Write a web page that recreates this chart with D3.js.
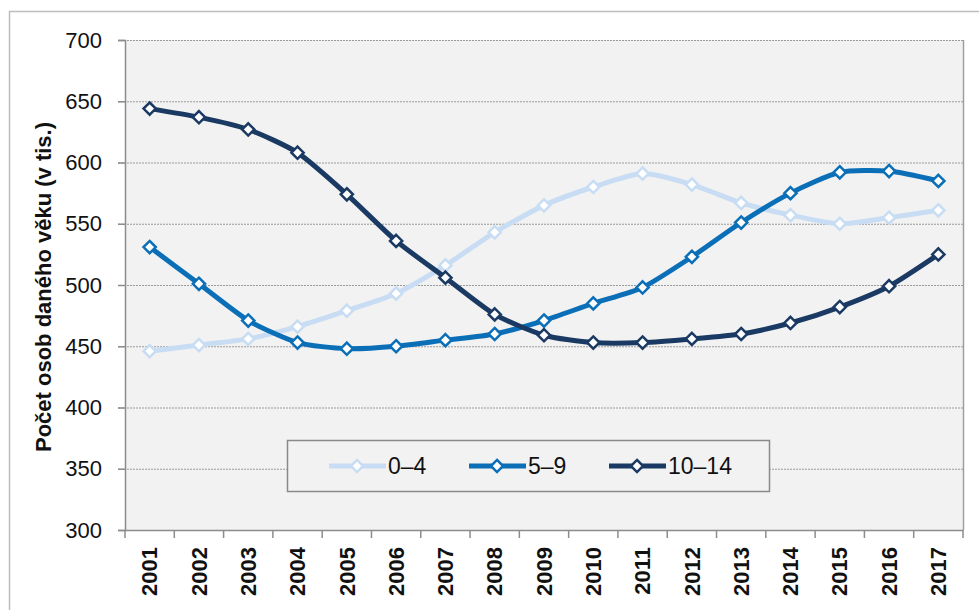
<!DOCTYPE html>
<html><head><meta charset="utf-8">
<script src="https://cdn.jsdelivr.net/npm/d3@7"></script>
<style>body{margin:0;background:#fff;}svg{display:block;font-family:"Liberation Sans",Arial,sans-serif;}</style>
</head><body>
<svg id="c" width="979" height="610"></svg>
<script>
const years = ["2001","2002","2003","2004","2005","2006","2007","2008","2009","2010","2011","2012","2013","2014","2015","2016","2017"];
const age0_4   = [446,451,456,466,479,493,516,543,565,580,591,582,567,557,550,555,561];
const age5_9   = [531,501,471,453,448,450,455,460,471,485,498,523,551,575,592,593,585];
const age10_14 = [644,637,627,608,574,536,506,476,459,453,453,456,460,469,482,499,525];
const seriesNames = ["0–4","5–9","10–14"];
const yTicks = [300,350,400,450,500,550,600,650,700];
const yTitle = "Počet osob daného věku (v tis.)";

const colors = ["#c8ddf4","#0b6fb8","#1b3a63"];
const series = [age0_4, age5_9, age10_14];

const svg = d3.select("#c");
const L = 125, T = 40, R = 963, B = 530;

// outer frame
svg.append("rect").attr("x",9.5).attr("y",11.5).attr("width",1000).attr("height",700)
  .attr("fill","#fff").attr("stroke","#bdbdbd").attr("stroke-width",1.5);

const x = d3.scaleBand().domain(years).range([L,R]);
const y = d3.scaleLinear().domain([300,700]).range([B,T]);

svg.append("rect").attr("x",L).attr("y",T).attr("width",R-L).attr("height",B-T).attr("fill","#f2f2f2");

// gridlines
svg.append("g").selectAll("line").data(yTicks.filter(d=>d>300)).join("line")
  .attr("x1",L-7).attr("x2",R).attr("y1",d=>y(d)+0.5).attr("y2",d=>y(d)+0.5)
  .attr("stroke","#9a9a9a").attr("stroke-width",1.2).attr("stroke-dasharray","2,1");
// right border
svg.append("line").attr("x1",R+0.5).attr("x2",R+0.5).attr("y1",T).attr("y2",B)
  .attr("stroke","#a0a0a0").attr("stroke-width",1.5);

// y axis
const yAxis = d3.axisLeft(y).tickValues(yTicks).tickSize(7).tickPadding(16);
const gy = svg.append("g").attr("transform",`translate(${L},0)`).call(yAxis);
gy.select(".domain").attr("stroke","#8c8c8c").attr("stroke-width",1.5);
gy.selectAll(".tick line").attr("stroke","#8c8c8c").attr("stroke-width",1.5);
gy.selectAll(".tick text").attr("font-size",22).attr("fill","#111").attr("font-family","Liberation Sans, Arial, sans-serif");

// x axis
const xAxis = d3.axisBottom(x).tickSize(0).tickPadding(0);
const gx = svg.append("g").attr("transform",`translate(0,${B})`).call(xAxis);
gx.select(".domain").attr("stroke","#8c8c8c").attr("stroke-width",1.5);
gx.selectAll(".tick text").attr("font-size",22).attr("font-weight","bold").attr("fill","#111")
  .attr("font-family","Liberation Sans, Arial, sans-serif")
  .attr("transform","rotate(-90)").attr("text-anchor","end").attr("dy","0.35em").attr("x",-17).attr("y",0);
// boundary ticks
const bounds = years.map(d=>x(d)).concat([R]);
svg.append("g").selectAll("line").data(bounds).join("line")
  .attr("x1",d=>d).attr("x2",d=>d).attr("y1",B).attr("y2",B+8)
  .attr("stroke","#8c8c8c").attr("stroke-width",1.5);

// y title
svg.append("text").attr("transform",`translate(51,${(T+B)/2+2}) rotate(-90)`)
  .attr("text-anchor","middle").attr("font-size",22).attr("font-weight","bold").attr("fill","#111")
  .text(yTitle);

// legend
const lg = svg.append("g");
lg.append("rect").attr("x",287.5).attr("y",440.5).attr("width",482).attr("height",51)
  .attr("fill","#f2f2f2").attr("stroke","#8a8a8a").attr("stroke-width",1.5);
const legX = [329,469,609];
const diamond = d3.symbol().type(d3.symbolDiamond2).size(95);

// lines
const line = d3.line().x((d,i)=>x(years[i])+x.bandwidth()/2).y(d=>y(d)).curve(d3.curveCardinal.tension(0.35));
series.forEach((s,k)=>{
  svg.append("path").datum(s).attr("d",line).attr("fill","none")
    .attr("stroke",colors[k]).attr("stroke-width",5).attr("stroke-linejoin","round");
  svg.append("g").selectAll("path").data(s).join("path")
    .attr("transform",(d,i)=>`translate(${x(years[i])+x.bandwidth()/2},${y(d)})`)
    .attr("d",diamond).attr("fill","#fff").attr("stroke",colors[k]).attr("stroke-width",2.5);
  // legend entry
  const lx = legX[k], ly = 466;
  lg.append("line").attr("x1",lx).attr("x2",lx+57).attr("y1",ly).attr("y2",ly)
    .attr("stroke",colors[k]).attr("stroke-width",5);
  lg.append("path").attr("transform",`translate(${lx+28},${ly})`).attr("d",diamond)
    .attr("fill","#fff").attr("stroke",colors[k]).attr("stroke-width",2.5);
  lg.append("text").attr("x",lx+59).attr("y",ly).attr("dy","0.35em").attr("font-size",23)
    .attr("fill","#111").text(seriesNames[k]);
});
</script>
</body></html>
